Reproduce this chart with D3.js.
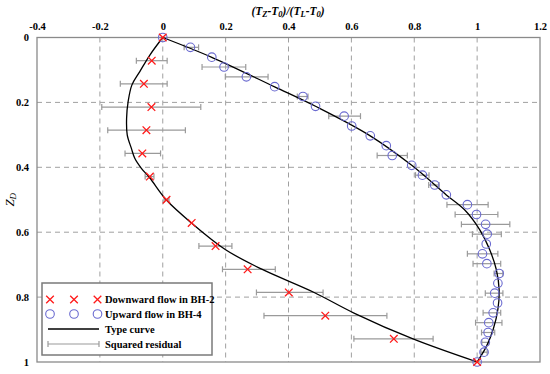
<!DOCTYPE html>
<html lang="en">
  <head>
    <meta charset="utf-8">
    <title>Temperature profiles</title>
    <script src="https://cdn.jsdelivr.net/npm/d3@7"></script>
    <style>
      body { margin: 0; background: #fff; }
      text { font-family: "Liberation Serif", "DejaVu Serif", serif; }
    </style>
  </head>
  <body>
    <div id="chart"></div>
    <script>
      // values
      var xTicks = [-0.4, -0.2, 0, 0.2, 0.4, 0.6, 0.8, 1, 1.2];
      var xTickLabels = ["-0.4", "-0.2", "0", "0.2", "0.4", "0.6", "0.8", "1", "1.2"];
      var yTicks = [0, 0.2, 0.4, 0.6, 0.8, 1];
      var yTickLabels = ["0", "0.2", "0.4", "0.6", "0.8", "1"];

      // downward flow BH-2 (15 points, z = i/14)
      var downZ = [0, 1/14, 2/14, 3/14, 4/14, 5/14, 6/14, 7/14, 8/14, 9/14, 10/14, 11/14, 12/14, 13/14, 1];
      var downT = [0, -0.035, -0.06, -0.036, -0.052, -0.065, -0.041, 0.012, 0.092, 0.168, 0.27, 0.401, 0.517, 0.735, 1];
      var downLo = [null, -0.084, -0.135, -0.194, -0.175, -0.12, -0.056, 0.004, null, 0.115, 0.19, 0.298, 0.322, 0.608, null];
      var downHi = [null, 0.014, 0.014, 0.121, 0.072, -0.007, -0.028, 0.02, null, 0.22, 0.358, 0.51, 0.713, 0.86, null];

      // upward flow BH-4 (34 points, z = i/33)
      var upT = [0, 0.088, 0.156, 0.195, 0.266, 0.356, 0.446, 0.486, 0.577, 0.601, 0.66, 0.711,
                 0.73, 0.792, 0.826, 0.865, 0.902, 0.969, 0.998, 1.027, 1.032, 1.029, 1.017, 1.031,
                 1.07, 1.066, 1.056, 1.065, 1.051, 1.037, 1.035, 1.026, 1.022, 1];
      var upLo = [null, 0.068, null, 0.125, 0.199, null, 0.428, null, 0.528, null, null, null,
                  0.682, null, 0.804, 0.846, null, 0.904, 0.93, 0.95, 0.985, null, 0.969, 0.987,
                  1.054, null, 1.026, null, 1.019, 0.995, 1.014, 1.015, 1.012, null];
      var upHi = [null, 0.114, null, 0.264, 0.335, null, 0.462, null, 0.629, null, null, null,
                  0.778, null, 0.847, 0.879, null, 1.035, 1.066, 1.104, 1.077, null, 1.066, 1.075,
                  1.082, null, 1.082, null, 1.075, 1.079, 1.056, 1.037, 1.032, null];

      // type curves [T, z]
      var downCurve = [[0, 0], [-0.041, 0.054], [-0.073, 0.105], [-0.098, 0.146], [-0.11, 0.197],
                       [-0.115, 0.249], [-0.113, 0.3], [-0.1, 0.341], [-0.089, 0.372], [-0.068, 0.403],
                       [-0.041, 0.433], [0.011, 0.5], [0.092, 0.572], [0.2, 0.654], [0.315, 0.714],
                       [0.48, 0.785], [0.61, 0.85], [0.796, 0.929], [1, 1]];
      var upCurve = [[0, 0], [0.156, 0.061], [0.356, 0.152], [0.486, 0.212], [0.66, 0.303],
                     [0.792, 0.394], [0.902, 0.485], [0.96, 0.531], [1.008, 0.592], [1.04, 0.654],
                     [1.061, 0.715], [1.07, 0.777], [1.066, 0.838], [1.051, 0.9], [1.03, 0.951], [1, 1]];

      var legendLabels = ["Downward flow in BH-2", "Upward flow in BH-4", "Type curve", "Squared residual"];

      var width = 550, height = 374;
      var margin = {top: 37.5, right: 10, bottom: 12, left: 37};

      var svg = d3.select("#chart").append("svg")
        .attr("width", width).attr("height", height);

      var x = d3.scaleLinear().domain([-0.4, 1.2]).range([margin.left, width - margin.right]);
      var y = d3.scaleLinear().domain([0, 1]).range([margin.top, height - margin.bottom]);

      var red = "#ff1a1a", blue = "#6a6ad0", grey = "#9a9a9a";

      // grid
      svg.append("g").selectAll("line")
        .data(xTicks.slice(1, -1)).enter().append("line")
        .attr("x1", d => x(d)).attr("x2", d => x(d))
        .attr("y1", y(0)).attr("y2", y(1))
        .attr("stroke", "#a0a0a0").attr("stroke-dasharray", "5,4");
      svg.append("g").selectAll("line")
        .data(yTicks.slice(1, -1)).enter().append("line")
        .attr("y1", d => y(d)).attr("y2", d => y(d))
        .attr("x1", x(-0.4)).attr("x2", x(1.2))
        .attr("stroke", "#a0a0a0").attr("stroke-dasharray", "5,4");

      // axes
      var xAxis = d3.axisTop(x).tickValues(xTicks).tickSize(0).tickPadding(8)
        .tickFormat((d, i) => xTickLabels[i]);
      var gx = svg.append("g").attr("transform", "translate(0," + y(0) + ")").call(xAxis);
      gx.select(".domain").remove();
      gx.selectAll("text").attr("font-weight", "bold").attr("font-size", 10.5).attr("fill", "#000");

      var yAxis = d3.axisLeft(y).tickValues(yTicks).tickSize(0).tickPadding(8)
        .tickFormat((d, i) => yTickLabels[i]);
      var gy = svg.append("g").attr("transform", "translate(" + x(-0.4) + ",0)").call(yAxis);
      gy.select(".domain").remove();
      gy.selectAll("text").attr("font-weight", "bold").attr("font-size", 10.5).attr("fill", "#000");

      // frame
      svg.append("rect")
        .attr("x", x(-0.4)).attr("y", y(0))
        .attr("width", x(1.2) - x(-0.4)).attr("height", y(1) - y(0))
        .attr("fill", "none").attr("stroke", "#8a8a8a").attr("stroke-width", 1.3);

      // titles
      var title = svg.append("text").attr("x", 288).attr("y", 15)
        .attr("text-anchor", "middle").attr("font-weight", "bold").attr("font-style", "italic")
        .attr("font-size", 11.5);
      var parts = [["(T", 0], ["Z", 1], ["-T", 0], ["0", 1], [")/(T", 0], ["L", 1], ["-T", 0], ["0", 1], [")", 0]];
      parts.forEach(function (p) {
        title.append("tspan").attr("baseline-shift", p[1] ? "-25%" : "0%")
          .attr("font-size", p[1] ? 8.5 : 11.5).text(p[0]);
      });

      var ylab = svg.append("text")
        .attr("transform", "translate(14," + y(0.5) + ") rotate(-90)")
        .attr("text-anchor", "middle").attr("font-style", "italic").attr("font-size", 13);
      ylab.append("tspan").text("Z");
      ylab.append("tspan").attr("baseline-shift", "-25%").attr("font-size", 9).text("D");

      // error bars
      function errorBars(t, z, lo, hi) {
        var g = svg.append("g").attr("stroke", grey).attr("stroke-width", 1.2);
        t.forEach(function (v, i) {
          if (lo[i] === null) return;
          var yy = y(z[i]);
          g.append("line").attr("x1", x(lo[i])).attr("x2", x(hi[i])).attr("y1", yy).attr("y2", yy);
          g.append("line").attr("x1", x(lo[i])).attr("x2", x(lo[i])).attr("y1", yy - 3).attr("y2", yy + 3);
          g.append("line").attr("x1", x(hi[i])).attr("x2", x(hi[i])).attr("y1", yy - 3).attr("y2", yy + 3);
        });
      }
      var upZ = upT.map((d, i) => i / 33);
      errorBars(downT, downZ, downLo, downHi);
      errorBars(upT, upZ, upLo, upHi);

      // type curves
      var line = d3.line().x(d => x(d[0])).y(d => y(d[1])).curve(d3.curveCatmullRom);
      [downCurve, upCurve].forEach(function (c) {
        svg.append("path").datum(c).attr("d", line)
          .attr("fill", "none").attr("stroke", "#000").attr("stroke-width", 1.3);
      });

      // markers
      svg.append("g").selectAll("circle")
        .data(upT).enter().append("circle")
        .attr("cx", d => x(d)).attr("cy", (d, i) => y(upZ[i])).attr("r", 4.3)
        .attr("fill", "none").attr("stroke", blue).attr("stroke-width", 1.1);

      function cross(g, cx, cy) {
        var s = 3.8;
        g.append("path")
          .attr("d", "M" + (cx - s) + "," + (cy - s) + "L" + (cx + s) + "," + (cy + s) +
                     "M" + (cx - s) + "," + (cy + s) + "L" + (cx + s) + "," + (cy - s))
          .attr("stroke", red).attr("stroke-width", 1.3).attr("fill", "none");
      }
      var gd = svg.append("g");
      downT.forEach(function (v, i) { cross(gd, x(v), y(downZ[i])); });

      // legend
      var lg = svg.append("g");
      lg.append("rect").attr("x", 42).attr("y", 283).attr("width", 170).attr("height", 72)
        .attr("fill", "#fff").attr("stroke", "#7a7a7a").attr("stroke-width", 1.5);
      var rows = [299.5, 314, 329, 344];
      [50, 74, 97.5].forEach(function (cx) {
        cross(lg, cx, rows[0]);
        lg.append("circle").attr("cx", cx).attr("cy", rows[1]).attr("r", 4.3)
          .attr("fill", "none").attr("stroke", blue).attr("stroke-width", 1.1);
      });
      lg.append("line").attr("x1", 48).attr("x2", 99).attr("y1", rows[2]).attr("y2", rows[2])
        .attr("stroke", "#000").attr("stroke-width", 1.3);
      lg.append("line").attr("x1", 48).attr("x2", 99).attr("y1", rows[3]).attr("y2", rows[3])
        .attr("stroke", grey).attr("stroke-width", 1.2);
      [48, 99].forEach(function (xx) {
        lg.append("line").attr("x1", xx).attr("x2", xx).attr("y1", rows[3] - 3).attr("y2", rows[3] + 3)
          .attr("stroke", grey).attr("stroke-width", 1.2);
      });
      legendLabels.forEach(function (t, i) {
        lg.append("text").attr("x", 105).attr("y", rows[i] + 3.5)
          .attr("font-weight", "bold").attr("font-size", 10.5).text(t);
      });
    </script>
  </body>
</html>
